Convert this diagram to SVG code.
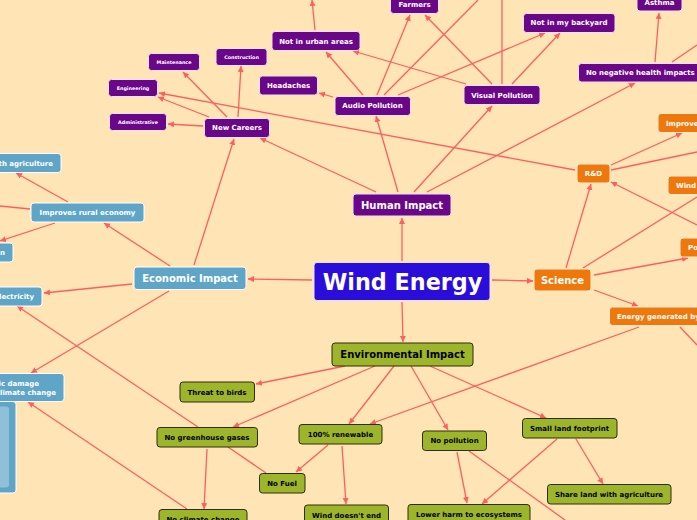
<svg xmlns="http://www.w3.org/2000/svg" width="697" height="520" viewBox="0 0 697 520">
<style>
text{font-family:"DejaVu Sans",sans-serif;font-weight:700;text-anchor:middle;dominant-baseline:central}
rect{stroke-width:1;rx:3px;ry:3px}
.p rect{fill:#6a0788;stroke:#f0e0f0}
.b rect{fill:#5fa5c8;stroke:#fff}
.o rect{fill:#ef780d;stroke:#ffe9d0}
.g rect{fill:#9db52a;stroke:#2c2c14}
.p text,.b text,.o text{fill:#fff}
.g text{fill:#000}
.e{text-anchor:end}
.s{text-anchor:start}
#links line{stroke:#fd5f5f;stroke-width:1.3;marker-end:url(#a)}
#links line.n{marker-end:none}
</style>
<defs><marker id="a" markerUnits="userSpaceOnUse" markerWidth="8" markerHeight="8" refX="6" refY="3" orient="auto"><path d="M0 0L6 3L0 6Z" fill="#fd5f5f"/></marker></defs>
<rect width="697" height="520" fill="#ffe4b5" style="stroke:none;rx:0;ry:0"/>
<g id="links">
<line x1="402" y1="261" x2="402" y2="218"/><line x1="402" y1="302" x2="403" y2="342"/><line x1="312" y1="280" x2="248" y2="279"/><line x1="492" y1="280" x2="533" y2="281"/>
<line x1="398" y1="192" x2="376" y2="116"/><line x1="414" y1="192" x2="492" y2="106"/><line x1="427" y1="192" x2="635" y2="83"/><line x1="376" y1="192" x2="260" y2="138"/>
<line x1="333" y1="97" x2="319" y2="93"/><line x1="363" y1="95" x2="326" y2="52"/><line x1="377" y1="95" x2="410" y2="15"/><line class="n" x1="384" y1="95" x2="478" y2="0"/><line x1="398" y1="95" x2="545" y2="33"/>
<line x1="466" y1="84" x2="353" y2="51"/><line x1="492" y1="84" x2="425" y2="15"/><line class="n" x1="502" y1="84" x2="502" y2="0"/><line x1="512" y1="84" x2="560" y2="33"/><line x1="315" y1="30" x2="312" y2="0"/>
<line x1="203" y1="126" x2="168" y2="124"/><line x1="209" y1="117" x2="158" y2="97"/><line x1="227" y1="117" x2="183" y2="72"/><line x1="238" y1="117" x2="241" y2="66"/>
<line x1="575" y1="170" x2="159" y2="93"/><line x1="655" y1="62" x2="659" y2="13"/><line class="n" x1="672" y1="62" x2="697" y2="45"/>
<line x1="611" y1="165" x2="682" y2="133"/><line class="n" x1="611" y1="170" x2="697" y2="152"/><line x1="566" y1="268" x2="591" y2="184"/><line class="n" x1="583" y1="268" x2="697" y2="197"/><line x1="594" y1="275" x2="688" y2="258"/><line x1="594" y1="290" x2="638" y2="306"/>
<line x1="697" y1="225" x2="611" y2="182"/><line x1="639" y1="327" x2="370" y2="424"/><line class="n" x1="680" y1="327" x2="697" y2="345"/>
<line x1="170" y1="266" x2="104" y2="223"/><line x1="194" y1="265" x2="234" y2="139"/><line x1="132" y1="284" x2="44" y2="293"/><line x1="169" y1="291" x2="31" y2="373"/>
<line x1="68" y1="202" x2="16" y2="173"/><line class="n" x1="30" y1="209" x2="0" y2="206"/><line x1="55" y1="223" x2="0" y2="241"/>
<line x1="198" y1="427" x2="17" y2="306"/><line x1="187" y1="509" x2="28" y2="402"/><line x1="207" y1="449" x2="204" y2="509"/><line class="n" x1="228" y1="447" x2="266" y2="473"/>
<line x1="345" y1="366" x2="256" y2="384"/><line x1="375" y1="366" x2="233" y2="427"/><line x1="394" y1="366" x2="349" y2="424"/><line x1="411" y1="366" x2="448" y2="430"/><line x1="430" y1="366" x2="546" y2="418"/>
<line x1="328" y1="445" x2="296" y2="472"/><line x1="342" y1="446" x2="346" y2="504"/><line x1="457" y1="452" x2="467" y2="503"/><line class="n" x1="469" y1="451" x2="565" y2="520"/><line x1="557" y1="439" x2="482" y2="504"/><line x1="576" y1="439" x2="603" y2="484"/>
</g>
<g id="wind-energy"><rect x="314" y="262.500" width="176" height="38" fill="#2b0ddb" stroke="#e8e0ff"/><text x="402.500" y="282" font-size="22.300" fill="#fff">Wind Energy</text></g>
<g id="human-impact" class="p"><rect x="353" y="194" width="98" height="22"/><text x="402" y="205" font-size="10">Human Impact</text></g>
<g id="environmental-impact" class="g"><rect x="332" y="343" width="141" height="23"/><text x="402.500" y="354.500" font-size="10">Environmental Impact</text></g>
<g id="economic-impact" class="b"><rect x="134" y="267" width="112" height="22.500"/><text x="190" y="278.500" font-size="10">Economic Impact</text></g>
<g id="science" class="o"><rect x="534" y="269" width="57" height="22"/><text x="562.500" y="280.500" font-size="10">Science</text></g>
<g id="not-urban" class="p"><rect x="272" y="31.500" width="88" height="19"/><text x="316" y="41.500" font-size="7">Not in urban areas</text></g>
<g id="maintenance" class="p"><rect x="148.500" y="53.500" width="51" height="17"/><text x="174" y="62" font-size="4.800">Maintenance</text></g>
<g id="construction" class="p"><rect x="216" y="48.500" width="51" height="17"/><text x="241.500" y="57" font-size="4.800">Construction</text></g>
<g id="engineering" class="p"><rect x="108.500" y="79.500" width="49" height="17"/><text x="133" y="88" font-size="4.800">Engineering</text></g>
<g id="headaches" class="p"><rect x="259.500" y="76" width="58" height="19"/><text x="288.500" y="85.500" font-size="7">Headaches</text></g>
<g id="audio-pollution" class="p"><rect x="335" y="96.500" width="75.500" height="19"/><text x="372.500" y="106" font-size="7">Audio Pollution</text></g>
<g id="administrative" class="p"><rect x="109.500" y="113.500" width="57" height="17"/><text x="138" y="122" font-size="4.800">Administrative</text></g>
<g id="new-careers" class="p"><rect x="204.500" y="118.500" width="65" height="19"/><text x="237" y="128" font-size="7">New Careers</text></g>
<g id="farmers" class="p"><rect x="390.500" y="-6" width="48" height="19.500"/><text x="414.500" y="4.500" font-size="7">Farmers</text></g>
<g id="not-backyard" class="p"><rect x="523.500" y="13.500" width="91.500" height="19"/><text x="569" y="22.500" font-size="7">Not in my backyard</text></g>
<g id="asthma" class="p"><rect x="637" y="-8" width="45" height="19"/><text x="659.500" y="2.500" font-size="7">Asthma</text></g>
<g id="no-negative" class="p"><rect x="578.500" y="63.500" width="140" height="18.500"/><text class="s" x="586" y="72.500" font-size="7">No negative health impacts o</text></g>
<g id="visual-pollution" class="p"><rect x="464" y="85.500" width="76" height="19"/><text x="502" y="95.500" font-size="7">Visual Pollution</text></g>
<g id="improve" class="o"><rect x="658" y="113.500" width="60" height="19"/><text class="s" x="666" y="123.500" font-size="7">Improve</text></g>
<g id="rd" class="o"><rect x="577" y="164" width="33" height="19"/><text x="593.500" y="173.500" font-size="7">R&amp;D</text></g>
<g id="wind" class="o"><rect x="668" y="176" width="60" height="18.500"/><text class="s" x="676" y="185.500" font-size="7">Wind</text></g>
<g id="po" class="o"><rect x="680" y="238" width="60" height="19"/><text class="s" x="688" y="247.500" font-size="7">Po</text></g>
<g id="energy-generated" class="o"><rect x="609.500" y="307" width="120" height="18.500"/><text class="s" x="617" y="316.500" font-size="7">Energy generated by</text></g>
<g id="agriculture" class="b"><rect x="-30" y="153.500" width="91" height="19"/><text class="e" x="53" y="163.500" font-size="7">th agriculture</text></g>
<g id="rural" class="b"><rect x="31" y="203" width="113" height="19"/><text x="87.500" y="212.500" font-size="7">Improves rural economy</text></g>
<g id="n-node" class="b"><rect x="-30" y="243" width="43" height="19"/><text class="e" x="5" y="253" font-size="7">n</text></g>
<g id="electricity" class="b"><rect x="-30" y="287" width="72" height="19"/><text class="e" x="34" y="296.500" font-size="7">lectricity</text></g>
<g id="damage" class="b"><rect x="-30" y="373.500" width="94" height="28"/><text class="e" x="39" y="383.500" font-size="7">ic damage</text><text class="e" x="56" y="392.500" font-size="7">climate change</text></g>
<g id="panel" class="b"><rect x="-30" y="401.500" width="46" height="91.500"/><rect x="-30" y="406.500" width="39" height="81" style="fill:#90bfd8;stroke:none"/></g>
<g id="birds" class="g"><rect x="180" y="382" width="74.500" height="20"/><text x="217" y="392.500" font-size="7">Threat to birds</text></g>
<g id="greenhouse" class="g"><rect x="157" y="427.500" width="100.500" height="19.500"/><text x="207" y="437.500" font-size="7">No greenhouse gases</text></g>
<g id="climate" class="g"><rect x="159" y="509.500" width="88" height="20"/><text x="203" y="519.500" font-size="7">No climate change</text></g>
<g id="renewable" class="g"><rect x="299" y="424.500" width="83" height="19.500"/><text x="340.500" y="434.500" font-size="7">100% renewable</text></g>
<g id="pollution" class="g"><rect x="422.500" y="431" width="64" height="19.500"/><text x="454.500" y="440.500" font-size="7">No pollution</text></g>
<g id="footprint" class="g"><rect x="522.500" y="418.500" width="94.500" height="19.500"/><text x="569.500" y="428.500" font-size="7">Small land footprint</text></g>
<g id="fuel" class="g"><rect x="259.500" y="473.500" width="45.500" height="19.500"/><text x="282" y="483.500" font-size="7">No Fuel</text></g>
<g id="share" class="g"><rect x="547.500" y="484.500" width="123.500" height="19.500"/><text x="609" y="494.500" font-size="7">Share land with agriculture</text></g>
<g id="wind-end" class="g"><rect x="304.500" y="505" width="84" height="20"/><text x="346.500" y="515.500" font-size="7">Wind doesn't end</text></g>
<g id="lower" class="g"><rect x="408" y="504.500" width="122" height="20"/><text x="469" y="514.500" font-size="7">Lower harm to ecosystems</text></g>
</svg>
